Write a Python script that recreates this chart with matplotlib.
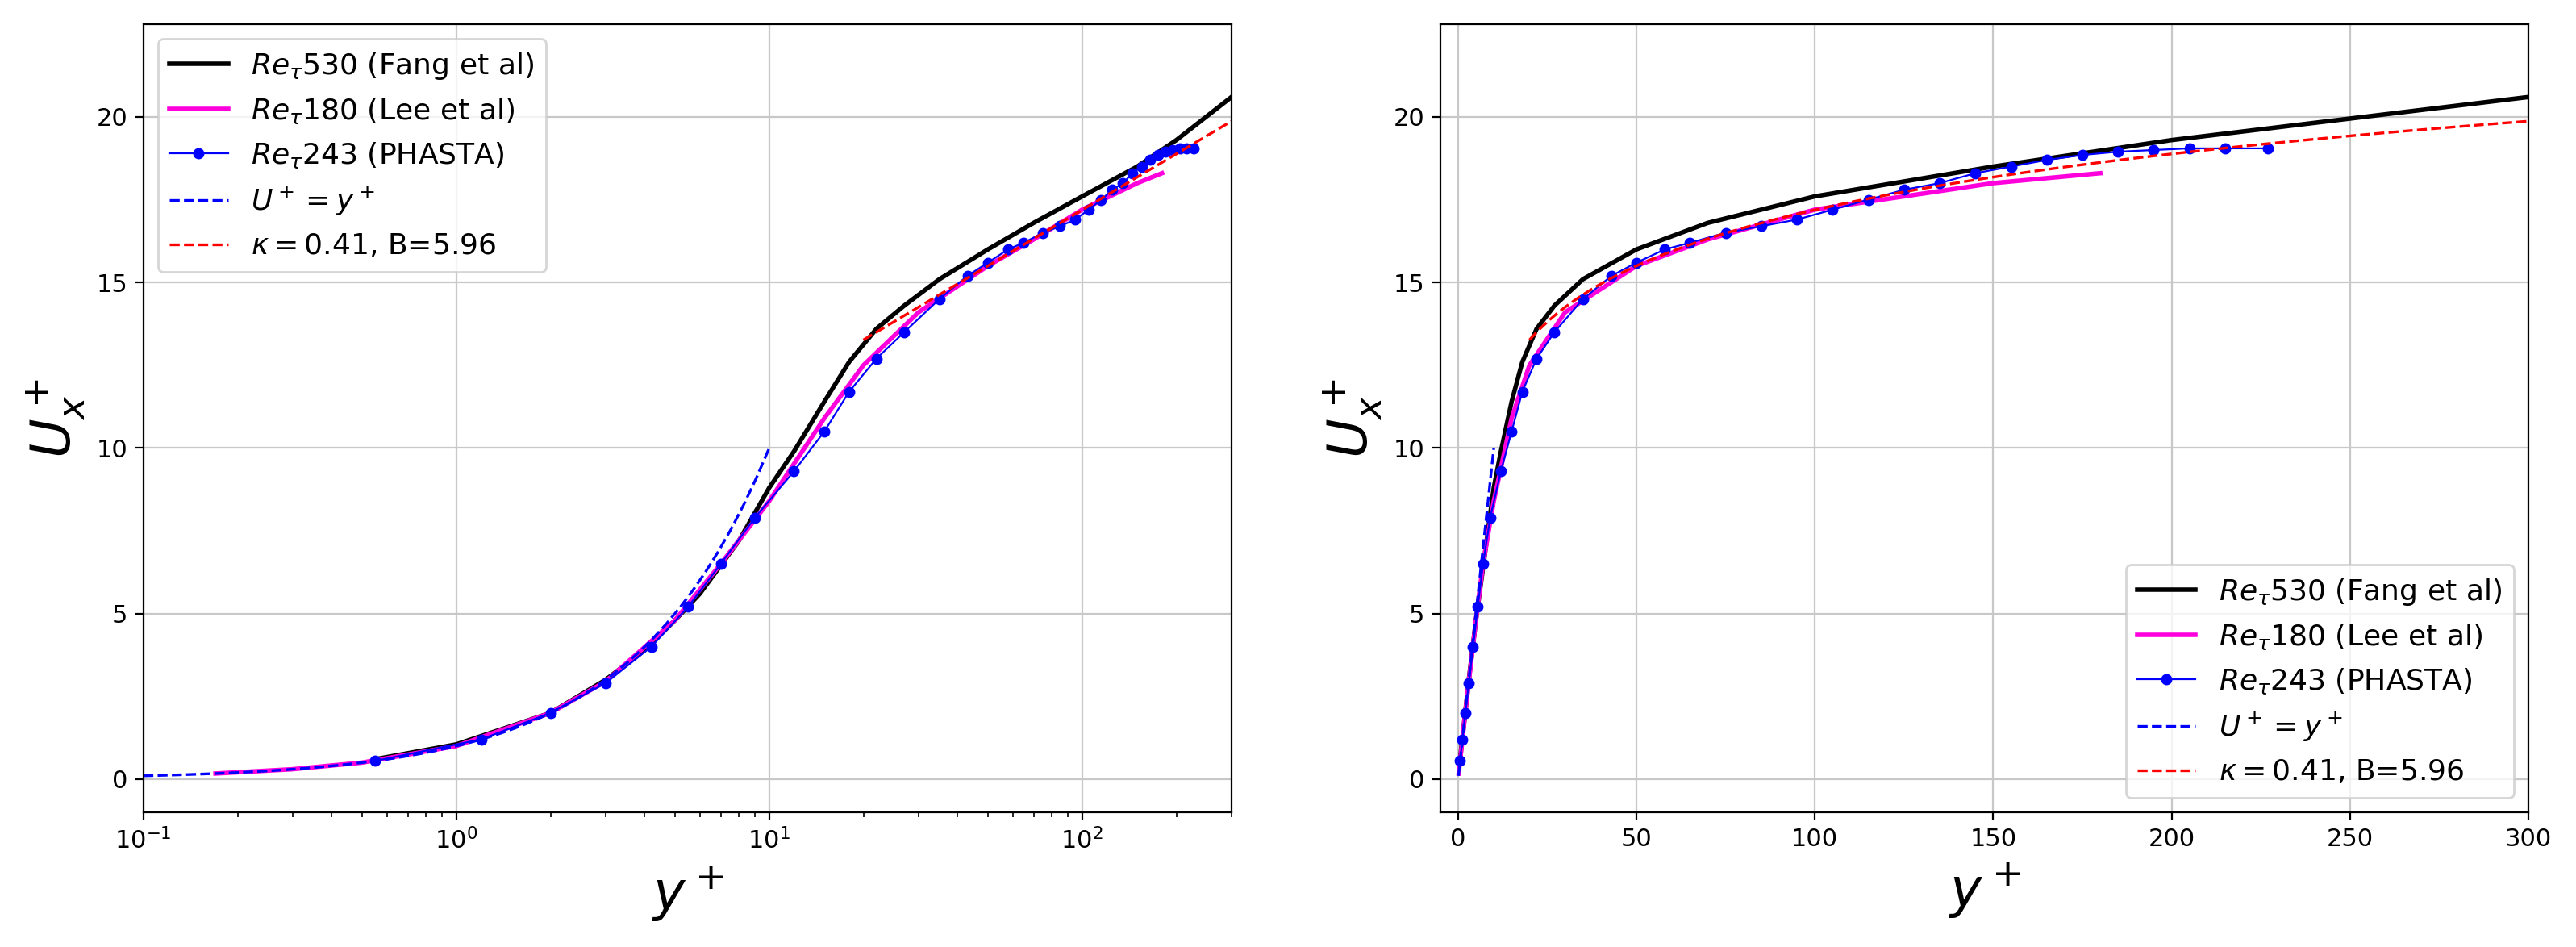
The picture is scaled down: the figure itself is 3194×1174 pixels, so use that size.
import numpy as np
import matplotlib.pyplot as plt

# Re_tau 530 (Fang et al)
fang_y = [0.55, 1, 2, 3, 4, 5, 6, 8, 10, 12, 15, 18, 22, 27, 35, 50, 70, 100, 150, 200, 300]
fang_u = [0.6, 1.05, 2.0, 3.0, 3.9, 4.8, 5.6, 7.2, 8.8, 9.9, 11.4, 12.6, 13.6, 14.3, 15.1, 16.0, 16.8, 17.6, 18.5, 19.3, 20.6]
# Re_tau 180 (Lee et al)
lee_y = [0.17, 0.3, 0.5, 1, 2, 3, 5, 7, 10, 15, 20, 30, 50, 70, 100, 150, 180]
lee_u = [0.17, 0.3, 0.5, 1.0, 2.0, 2.95, 4.8, 6.5, 8.4, 10.9, 12.5, 14.1, 15.5, 16.3, 17.2, 18.0, 18.3]
# Re_tau 243 (PHASTA)
ph_y = [0.55, 1.2, 2, 3, 4.2, 5.5, 7, 9, 12, 15, 18, 22, 27, 35, 43, 50, 58, 65, 75, 85,
        95, 105, 115, 125, 135, 145, 155, 165, 175, 185, 195, 205, 215, 227]
ph_u = [0.55, 1.2, 2.0, 2.9, 4.0, 5.2, 6.5, 7.9, 9.3, 10.5, 11.7, 12.7, 13.5, 14.5, 15.2, 15.6,
        16.0, 16.2, 16.5, 16.7, 16.9, 17.2, 17.5, 17.8, 18.0, 18.3, 18.5, 18.7, 18.85, 18.95,
        19.0, 19.05, 19.05, 19.05]
kappa, B = 0.41, 5.96
visc_y = np.logspace(-1, 1, 50)
log_y = np.linspace(20, 300, 100)

fig, axes = plt.subplots(1, 2, figsize=(15.97, 5.87), dpi=200)
for i, ax in enumerate(axes):
    ax.plot(fang_y, fang_u, 'k-', lw=2, label=r'$Re_{\tau}$530 (Fang et al)')
    ax.plot(lee_y, lee_u, '-', color='#ff00dd', lw=2, label=r'$Re_{\tau}$180 (Lee et al)')
    ax.plot(ph_y, ph_u, '-', color='blue', lw=0.8, marker='o', ms=4, label=r'$Re_{\tau}$243 (PHASTA)')
    ax.plot(visc_y, visc_y, '--', color='blue', lw=1.2, label=r'$U^+=y^+$')
    ax.plot(log_y, np.log(log_y) / kappa + B, '--', color='red', lw=1.2, label=r'$\kappa=0.41$, B=5.96')
    ax.set_ylim(-1, 22.8)
    ax.set_yticks([0, 5, 10, 15, 20])
    ax.grid(True, color='#c8c8c8')
    ax.set_xlabel(r'$y^+$', fontsize=24)
    ax.set_ylabel(r'$U_x^+$', fontsize=24)
    ax.tick_params(labelsize=11)
axes[0].set_xscale('log')
axes[0].set_xlim(0.1, 300)
axes[0].legend(loc='upper left', fontsize=13)
axes[1].set_xlim(-5, 300)
axes[1].legend(loc='lower right', fontsize=13)
plt.tight_layout(w_pad=4)
plt.savefig('out.png')
